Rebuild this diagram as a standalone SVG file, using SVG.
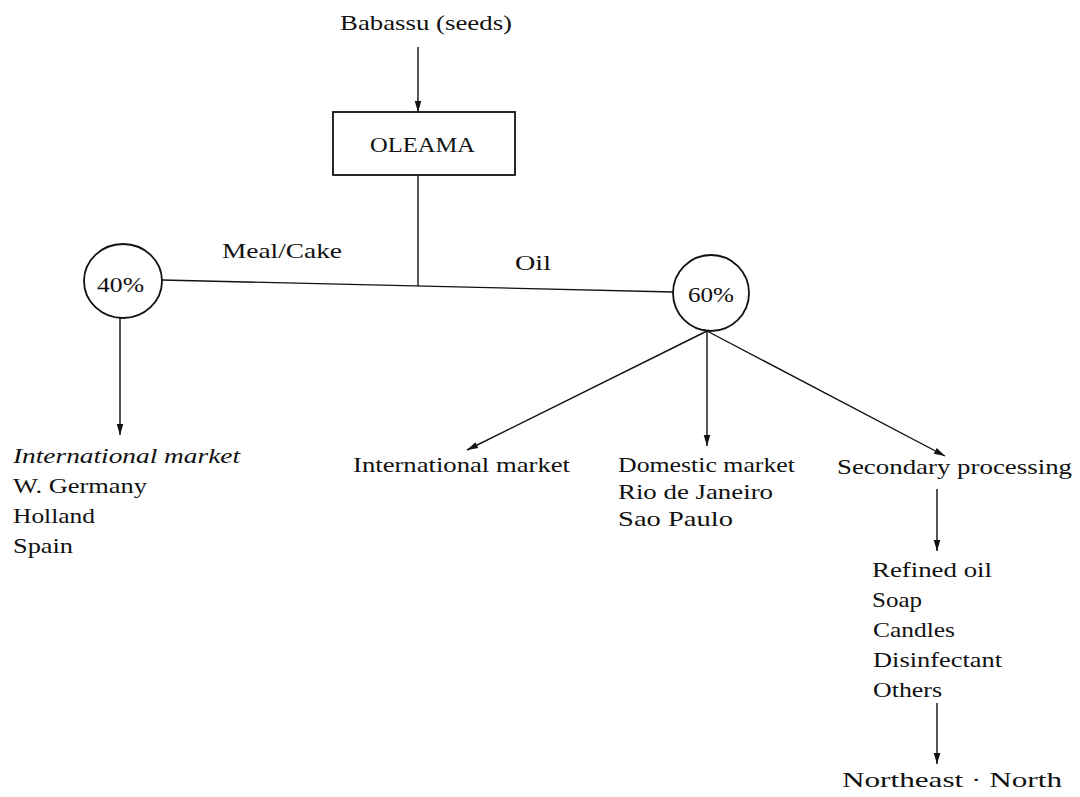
<svg xmlns="http://www.w3.org/2000/svg" width="1080" height="797" viewBox="0 0 1080 797">
<defs>
<marker id="arr" viewBox="0 0 10 10" refX="10" refY="5" markerWidth="11" markerHeight="11" markerUnits="userSpaceOnUse" orient="auto">
<path d="M0,2 L10,5 L0,8 Z" fill="#111"/>
</marker>
<style>
text{font-family:"Liberation Serif","DejaVu Serif",serif;font-size:21px;fill:#111}
.it{font-style:italic}
.ln{stroke:#111;stroke-width:1.4;fill:none}
.box{stroke:#111;stroke-width:1.8;fill:#fff}
</style>
</defs>
<rect width="1080" height="797" fill="#fff"/>
<g id="connectors">
<line class="ln" x1="418" y1="47" x2="418" y2="112" marker-end="url(#arr)"/>
<line class="ln" x1="418" y1="176" x2="418" y2="286"/>
<line class="ln" x1="162" y1="280" x2="673" y2="292"/>
<line class="ln" x1="120" y1="318" x2="120" y2="435" marker-end="url(#arr)"/>
<line class="ln" x1="707" y1="331" x2="467" y2="450" marker-end="url(#arr)"/>
<line class="ln" x1="707" y1="331" x2="707" y2="446" marker-end="url(#arr)"/>
<line class="ln" x1="707" y1="331" x2="945" y2="456" marker-end="url(#arr)"/>
<line class="ln" x1="937" y1="489" x2="937" y2="551" marker-end="url(#arr)"/>
<line class="ln" x1="937" y1="703" x2="937" y2="764" marker-end="url(#arr)"/>
<text x="222" y="258" textLength="120" lengthAdjust="spacingAndGlyphs">Meal/Cake</text>
<text x="515" y="270" textLength="36" lengthAdjust="spacingAndGlyphs">Oil</text>
</g>
<g id="node-babassu">
<text x="340" y="30" textLength="172" lengthAdjust="spacingAndGlyphs">Babassu (seeds)</text>
</g>
<g id="node-oleama">
<rect class="box" x="333" y="112" width="182" height="63"/>
<text x="370" y="152" textLength="105" lengthAdjust="spacingAndGlyphs">OLEAMA</text>
</g>
<g id="node-40">
<ellipse class="box" cx="123" cy="281" rx="39" ry="37"/>
<text x="97" y="292" textLength="47" lengthAdjust="spacingAndGlyphs">40%</text>
</g>
<g id="node-60">
<ellipse class="box" cx="711" cy="293" rx="38" ry="38"/>
<text x="688" y="302" textLength="46" lengthAdjust="spacingAndGlyphs">60%</text>
</g>
<g id="node-intl-left">
<text class="it" x="13" y="463" textLength="227" lengthAdjust="spacingAndGlyphs">International market</text>
<text x="13" y="493" textLength="134" lengthAdjust="spacingAndGlyphs">W. Germany</text>
<text x="13" y="523" textLength="82" lengthAdjust="spacingAndGlyphs">Holland</text>
<text x="13" y="553" textLength="60" lengthAdjust="spacingAndGlyphs">Spain</text>
</g>
<g id="node-intl-mid">
<text x="353" y="472" textLength="217" lengthAdjust="spacingAndGlyphs">International market</text>
</g>
<g id="node-domestic">
<text x="618" y="472" textLength="177" lengthAdjust="spacingAndGlyphs">Domestic market</text>
<text x="618" y="499" textLength="155" lengthAdjust="spacingAndGlyphs">Rio de Janeiro</text>
<text x="618" y="526" textLength="115" lengthAdjust="spacingAndGlyphs">Sao Paulo</text>
</g>
<g id="node-secondary">
<text x="837" y="474" textLength="235" lengthAdjust="spacingAndGlyphs">Secondary processing</text>
</g>
<g id="node-products">
<text x="872" y="577" textLength="120" lengthAdjust="spacingAndGlyphs">Refined oil</text>
<text x="872" y="607" textLength="50" lengthAdjust="spacingAndGlyphs">Soap</text>
<text x="873" y="637" textLength="82" lengthAdjust="spacingAndGlyphs">Candles</text>
<text x="873" y="667" textLength="129" lengthAdjust="spacingAndGlyphs">Disinfectant</text>
<text x="873" y="697" textLength="69" lengthAdjust="spacingAndGlyphs">Others</text>
</g>
<g id="node-northeast">
<text x="842" y="787" textLength="220" lengthAdjust="spacingAndGlyphs">Northeast · North</text>
</g>
</svg>
